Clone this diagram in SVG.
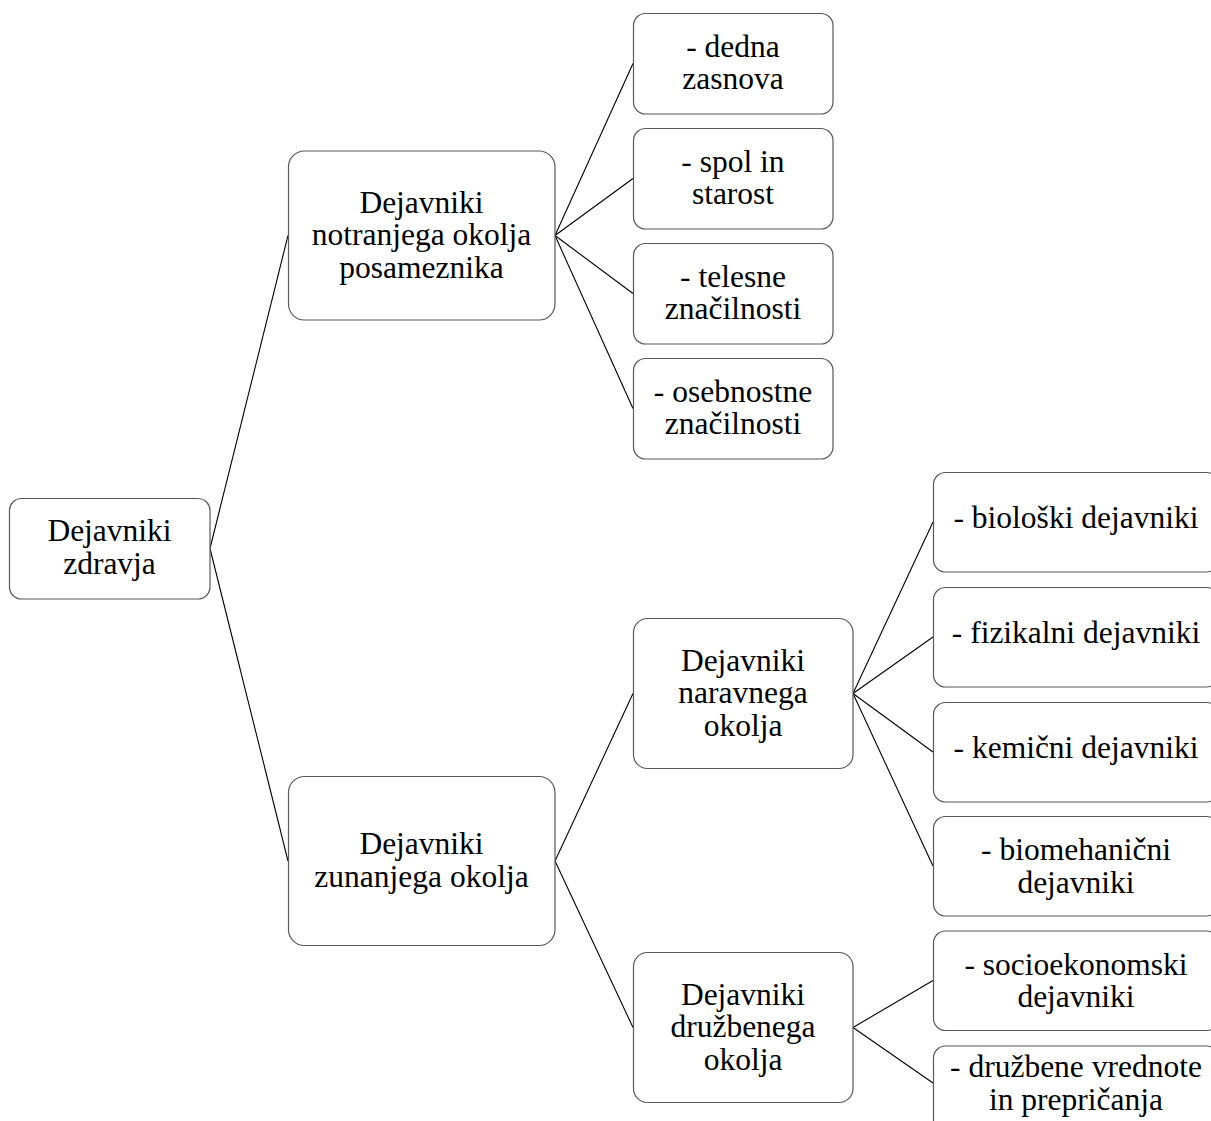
<svg xmlns="http://www.w3.org/2000/svg" width="1211" height="1121" viewBox="0 0 1211 1121">
<style>
.box{fill:#fff;stroke:#595959;stroke-width:1.2}
.t{font-family:"Liberation Serif","Times New Roman",serif;font-size:31.5px;fill:#000;text-anchor:middle}
.c line{stroke:#000;stroke-width:1.1}
</style>
<rect width="1211" height="1121" fill="#fff"/>
<g class="c" id="connectors">
<line x1="210" y1="548.5" x2="288" y2="235.5"/>
<line x1="210" y1="548.5" x2="288" y2="861"/>
<line x1="555" y1="235.5" x2="633" y2="63.5"/>
<line x1="555" y1="235.5" x2="633" y2="178.5"/>
<line x1="555" y1="235.5" x2="633" y2="293.5"/>
<line x1="555" y1="235.5" x2="633" y2="408.5"/>
<line x1="555" y1="861" x2="633" y2="693.5"/>
<line x1="555" y1="861" x2="633" y2="1027.5"/>
<line x1="853" y1="693.5" x2="933" y2="522"/>
<line x1="853" y1="693.5" x2="933" y2="637"/>
<line x1="853" y1="693.5" x2="933" y2="752"/>
<line x1="853" y1="693.5" x2="933" y2="866"/>
<line x1="853" y1="1027.5" x2="933" y2="980.5"/>
<line x1="853" y1="1027.5" x2="933" y2="1083"/>
</g>
<g id="root"><rect class="box" x="9.5" y="498.5" width="200.5" height="100.5" rx="12"/>
<text class="t" x="109.5" y="541">Dejavniki</text><text class="t" x="109.5" y="573.5">zdravja</text></g>
<g id="notranje"><rect class="box" x="288.5" y="151" width="266.5" height="169" rx="16"/>
<text class="t" x="421.5" y="212.5">Dejavniki</text><text class="t" x="421.5" y="245">notranjega okolja</text><text class="t" x="421.5" y="277.5">posameznika</text></g>
<g id="dedna"><rect class="box" x="633.5" y="13.5" width="199.5" height="100.5" rx="12"/>
<text class="t" x="733" y="56.5">- dedna</text><text class="t" x="733" y="89">zasnova</text></g>
<g id="spol"><rect class="box" x="633.5" y="128.5" width="199.5" height="100.5" rx="12"/>
<text class="t" x="733" y="171.5">- spol in</text><text class="t" x="733" y="204">starost</text></g>
<g id="telesne"><rect class="box" x="633.5" y="243.5" width="199.5" height="100.5" rx="12"/>
<text class="t" x="733" y="286.5">- telesne</text><text class="t" x="733" y="319">značilnosti</text></g>
<g id="osebnostne"><rect class="box" x="633.5" y="358.5" width="199.5" height="100.5" rx="12"/>
<text class="t" x="733" y="401.5">- osebnostne</text><text class="t" x="733" y="434">značilnosti</text></g>
<g id="zunanje"><rect class="box" x="288.5" y="776.5" width="266.5" height="169" rx="16"/>
<text class="t" x="421.5" y="854">Dejavniki</text><text class="t" x="421.5" y="886.5">zunanjega okolja</text></g>
<g id="naravno"><rect class="box" x="633.5" y="618.5" width="219.5" height="150" rx="14"/>
<text class="t" x="743" y="670.5">Dejavniki</text><text class="t" x="743" y="703">naravnega</text><text class="t" x="743" y="735.5">okolja</text></g>
<g id="druzbeno"><rect class="box" x="633.5" y="952.5" width="219.5" height="150" rx="14"/>
<text class="t" x="743" y="1004.5">Dejavniki</text><text class="t" x="743" y="1037">družbenega</text><text class="t" x="743" y="1069.5">okolja</text></g>
<g id="bioloski"><rect class="box" x="933.5" y="472.5" width="285" height="99.5" rx="12"/>
<text class="t" x="1076" y="528">- biološki dejavniki</text></g>
<g id="fizikalni"><rect class="box" x="933.5" y="587.5" width="285" height="99.5" rx="12"/>
<text class="t" x="1076" y="643">- fizikalni dejavniki</text></g>
<g id="kemicni"><rect class="box" x="933.5" y="702.5" width="285" height="99.5" rx="12"/>
<text class="t" x="1076" y="758">- kemični dejavniki</text></g>
<g id="biomehanicni"><rect class="box" x="933.5" y="816.5" width="285" height="99.5" rx="12"/>
<text class="t" x="1076" y="859.5">- biomehanični</text><text class="t" x="1076" y="892.5">dejavniki</text></g>
<g id="socioekonomski"><rect class="box" x="933.5" y="931" width="285" height="99.5" rx="12"/>
<text class="t" x="1076" y="974.5">- socioekonomski</text><text class="t" x="1076" y="1007">dejavniki</text></g>
<g id="vrednote"><rect class="box" x="933.5" y="1046" width="285" height="100" rx="12"/>
<text class="t" x="1076" y="1077">- družbene vrednote</text><text class="t" x="1076" y="1110">in prepričanja</text></g>
</svg>
